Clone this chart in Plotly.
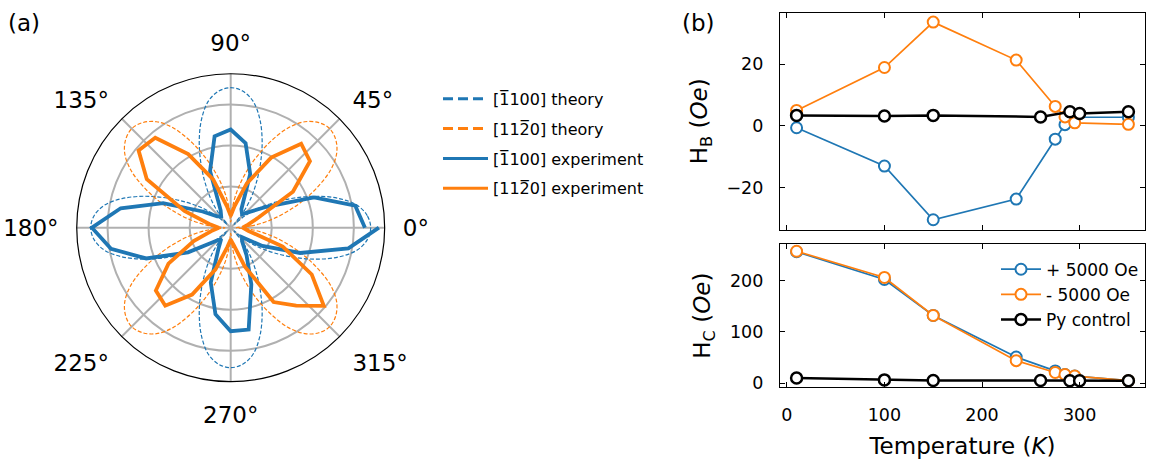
import plotly.graph_objects as go

# ---------------- data: panel (a) ----------------
theta_exp = list(range(0, 361, 10))
blue_exp = [3.27, 3.08, 2.16, 1.03, 0.60, 0.43, 0.52, 1.39, 2.09, 2.39, 2.26, 1.47, 0.49,
            0.36, 0.43, 0.79, 1.75, 2.72, 3.38, 2.96, 2.19, 1.20, 0.53, 0.36, 0.60, 1.42,
            2.14, 2.52, 2.52, 1.47, 0.77, 0.43, 0.36, 0.89, 1.80, 2.91, 3.61]
orange_exp = [0.29, 0.43, 0.72, 1.75, 2.52, 2.67, 1.97, 1.15, 0.53, 0.29, 0.53, 1.25, 2.07,
              2.86, 2.93, 2.36, 1.20, 0.53, 0.29, 0.48, 0.96, 1.75, 2.38, 2.48, 1.88, 1.08,
              0.48, 0.29, 0.43, 1.01, 2.09, 2.48, 2.96, 2.28, 1.35, 0.43, 0.29]

theta_theory = list(range(0, 361, 5))
blue_theory = [3.41, 3.34, 3.13, 2.74, 2.24, 1.71, 1.23, 0.82, 0.43, 0.12, 0.43, 0.82, 1.23, 1.71, 2.24, 2.74, 3.13, 3.34, 3.41,
               3.34, 3.13, 2.74, 2.24, 1.71, 1.23, 0.82, 0.43, 0.12, 0.43, 0.82, 1.23, 1.71, 2.24, 2.74, 3.13, 3.34, 3.41,
               3.34, 3.13, 2.74, 2.24, 1.71, 1.23, 0.82, 0.43, 0.12, 0.43, 0.82, 1.23, 1.71, 2.24, 2.74, 3.13, 3.34, 3.41,
               3.34, 3.13, 2.74, 2.24, 1.71, 1.23, 0.82, 0.43, 0.12, 0.43, 0.82, 1.23, 1.71, 2.24, 2.74, 3.13, 3.34, 3.41]
orange_theory = [0.14, 0.50, 0.91, 1.35, 1.83, 2.33, 2.81, 3.15, 3.34, 3.41, 3.34, 3.15, 2.81, 2.33, 1.83, 1.35, 0.91, 0.50, 0.14,
                 0.50, 0.91, 1.35, 1.83, 2.33, 2.81, 3.15, 3.34, 3.41, 3.34, 3.15, 2.81, 2.33, 1.83, 1.35, 0.91, 0.50, 0.14,
                 0.50, 0.91, 1.35, 1.83, 2.33, 2.81, 3.15, 3.34, 3.41, 3.34, 3.15, 2.81, 2.33, 1.83, 1.35, 0.91, 0.50, 0.14,
                 0.50, 0.91, 1.35, 1.83, 2.33, 2.81, 3.15, 3.34, 3.41, 3.34, 3.15, 2.81, 2.33, 1.83, 1.35, 0.91, 0.50, 0.14]

legend_a = ["[1\u0305100] theory", "[112\u03050] theory",
            "[1\u0305100] experiment", "[112\u03050] experiment"]

# ---------------- data: panel (b) ----------------
temp_field = [10, 100, 150, 235, 275, 285, 295, 350]
hb_plus = [-0.6, -13.0, -30.4, -23.7, -4.3, 0.4, 2.8, 2.8]
hb_minus = [5.0, 18.9, 33.6, 21.3, 6.3, 2.9, 1.0, 0.5]
hc_plus = [256, 202, 132, 51, 24, 17, 14, 5]
hc_minus = [257, 206, 132, 44, 21, 17, 14, 5]
temp_py = [10, 100, 150, 260, 290, 300, 350]
hb_py = [3.4, 3.2, 3.4, 2.9, 4.6, 4.0, 4.6]
hc_py = [10, 6.5, 5.5, 5.5, 5.0, 5.0, 5.0]
legend_b = ["+ 5000 Oe", "- 5000 Oe", "Py control"]

BLUE = "#1f77b4"
ORANGE = "#ff7f0e"
FONT = "DejaVu Sans"

fig = go.Figure()

# ---- polar traces ----
fig.add_trace(go.Scatterpolar(r=blue_theory, theta=theta_theory, mode="lines",
                              line=dict(color=BLUE, width=1.2, dash="4px,2px", shape="spline", smoothing=1),
                              showlegend=False, subplot="polar"))
fig.add_trace(go.Scatterpolar(r=orange_theory, theta=theta_theory, mode="lines",
                              line=dict(color=ORANGE, width=1.2, dash="4px,2px", shape="spline", smoothing=1),
                              showlegend=False, subplot="polar"))
fig.add_trace(go.Scatterpolar(r=blue_exp, theta=theta_exp, mode="lines",
                              line=dict(color=BLUE, width=3.8), showlegend=False, subplot="polar"))
fig.add_trace(go.Scatterpolar(r=orange_exp, theta=theta_exp, mode="lines",
                              line=dict(color=ORANGE, width=3.8), showlegend=False, subplot="polar"))
# legend entries for panel (a)
for name, col, dash in zip(legend_a, [BLUE, ORANGE, BLUE, ORANGE], ["10px,5px", "10px,5px", "solid", "solid"]):
    fig.add_trace(go.Scatterpolar(r=[None], theta=[None], mode="lines", name=name,
                                  line=dict(color=col, width=3, dash=dash),
                                  legend="legend", legendgroup=name, subplot="polar"))

# ---- panel (b) traces ----
mk = dict(symbol="circle", size=11, color="white")
fig.add_trace(go.Scatter(x=temp_field, y=hb_plus, mode="lines+markers", showlegend=False,
                         line=dict(color=BLUE, width=1.7), marker=dict(mk, line=dict(color=BLUE, width=2)),
                         xaxis="x", yaxis="y"))
fig.add_trace(go.Scatter(x=temp_field, y=hb_minus, mode="lines+markers", showlegend=False,
                         line=dict(color=ORANGE, width=1.7), marker=dict(mk, line=dict(color=ORANGE, width=2)),
                         xaxis="x", yaxis="y"))
fig.add_trace(go.Scatter(x=temp_py, y=hb_py, mode="lines+markers", showlegend=False,
                         line=dict(color="black", width=2.5), marker=dict(mk, line=dict(color="black", width=2.5)),
                         xaxis="x", yaxis="y"))
fig.add_trace(go.Scatter(x=temp_field, y=hc_plus, mode="lines+markers", name=legend_b[0], legend="legend2",
                         line=dict(color=BLUE, width=1.7), marker=dict(mk, line=dict(color=BLUE, width=2)),
                         xaxis="x2", yaxis="y2"))
fig.add_trace(go.Scatter(x=temp_field, y=hc_minus, mode="lines+markers", name=legend_b[1], legend="legend2",
                         line=dict(color=ORANGE, width=1.7), marker=dict(mk, line=dict(color=ORANGE, width=2)),
                         xaxis="x2", yaxis="y2"))
fig.add_trace(go.Scatter(x=temp_py, y=hc_py, mode="lines+markers", name=legend_b[2], legend="legend2",
                         line=dict(color="black", width=2.5), marker=dict(mk, line=dict(color="black", width=2.5)),
                         xaxis="x2", yaxis="y2"))

W, H = 1155, 460
def px(x):
    return x / W
def py(y):
    return 1 - y / H

axis_common = dict(showline=True, linecolor="black", linewidth=1.2, mirror="allticks",
                   ticks="inside", ticklen=5, tickwidth=1.3, tickcolor="black",
                   showgrid=False, zeroline=False,
                   tickfont=dict(family=FONT, size=17.5, color="black"))

fig.update_layout(
    width=W, height=H,
    margin=dict(l=0, r=0, t=0, b=0),
    paper_bgcolor="white", plot_bgcolor="white",
    font=dict(family=FONT, color="black"),
    polar=dict(
        domain=dict(x=[px(230.7 - 156), px(230.7 + 156)], y=[py(230.7 + 156), py(230.7 - 156)]),
        bgcolor="white",
        radialaxis=dict(range=[0, 3.75], tickvals=[1, 2, 3], showticklabels=False, ticks="",
                        showline=False, gridcolor="#b0b0b0", gridwidth=1.6),
        angularaxis=dict(rotation=0, direction="counterclockwise", dtick=45, ticksuffix="°",
                         ticks="outside", ticklen=13, tickcolor="rgba(0,0,0,0)",
                         tickfont=dict(family=FONT, size=23, color="black"),
                         showline=True, linecolor="black", linewidth=1.2,
                         gridcolor="#b0b0b0", gridwidth=1.6),
    ),
    xaxis=dict(axis_common, domain=[px(780), px(1145)], range=[-7, 367], tickvals=[0, 100, 200, 300],
               showticklabels=False, anchor="y"),
    yaxis=dict(axis_common, domain=[py(233), py(12.7)], range=[-33.7, 36.7], tickvals=[-20, 0, 20],
               anchor="x", ticklabelstandoff=12,
               title=dict(text="H<sub>B</sub> (<i>Oe</i>)", font=dict(family=FONT, size=23), standoff=12)),
    xaxis2=dict(axis_common, domain=[px(780), px(1145)], range=[-7, 367], tickvals=[0, 100, 200, 300],
                anchor="y2", ticklabelstandoff=12,
                title=dict(text="Temperature (<i>K</i>)", font=dict(family=FONT, size=23), standoff=13)),
    yaxis2=dict(axis_common, domain=[py(392.3), py(247.3)], range=[-7.7, 271], tickvals=[0, 100, 200],
                anchor="x2", ticklabelstandoff=12,
                title=dict(text="H<sub>C</sub> (<i>Oe</i>)", font=dict(family=FONT, size=23), standoff=12)),
    legend=dict(x=px(438), y=py(83), xanchor="left", yanchor="top", bgcolor="rgba(0,0,0,0)",
                font=dict(family=FONT, size=16, color="black"), tracegroupgap=6, traceorder="grouped",
                itemwidth=45),
    legend2=dict(x=px(996), y=py(255), xanchor="left", yanchor="top", bgcolor="rgba(0,0,0,0)",
                 font=dict(family=FONT, size=17, color="black"), tracegroupgap=0, itemwidth=40),
    annotations=[
        dict(text="(a)", x=px(6), y=py(8), xref="paper", yref="paper", xanchor="left", yanchor="top",
             showarrow=False, font=dict(family=FONT, size=23, color="black")),
        dict(text="(b)", x=px(680), y=py(8), xref="paper", yref="paper", xanchor="left", yanchor="top",
             showarrow=False, font=dict(family=FONT, size=23, color="black")),
    ],
)

fig.write_html("out.html", config={"displayModeBar": False},
               post_script="document.body.style.margin='0px';")
